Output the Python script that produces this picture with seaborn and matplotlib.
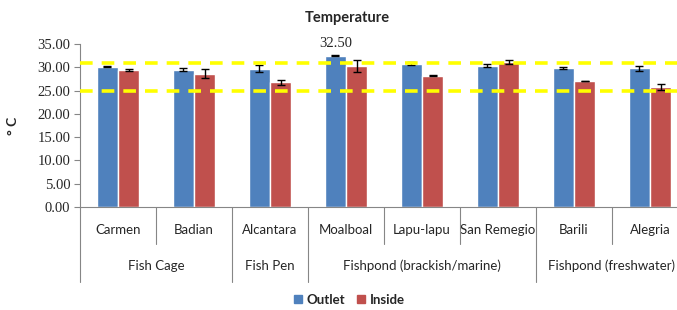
import numpy as np
import pandas as pd
import matplotlib
matplotlib.use("Agg")
import matplotlib.pyplot as plt
import seaborn as sns
from matplotlib.lines import Line2D
from matplotlib.transforms import blended_transform_factory

sites = ["Carmen", "Badian", "Alcantara", "Moalboal", "Lapu-lapu",
         "San Remegio", "Barili", "Alegria"]
groups = ["Fish Cage", "Fish Pen", "Fishpond (brackish/marine)", "Fishpond (freshwater)"]
group_sizes = [2, 1, 3, 2]
series = ["Outlet", "Inside"]
outlet = [30.1, 29.5, 29.7, 32.5, 30.8, 30.3, 29.8, 29.8]
outlet_err = [0.1, 0.3, 0.8, 0.1, 0.3, 0.3, 0.2, 0.5]
inside = [29.5, 28.6, 26.8, 30.2, 28.2, 31.2, 27.1, 25.8]
inside_err = [0.2, 1.0, 0.5, 1.3, 0.05, 0.4, 0.05, 0.6]
limits = [25, 31]
colors = ["#4F81BD", "#C0504D"]

df = pd.DataFrame({
    "site": sites * 2,
    "series": ["Outlet"] * len(sites) + ["Inside"] * len(sites),
    "temp": outlet + inside,
    "err": outlet_err + inside_err,
})

sns.set_style("white")
plt.rcParams["font.family"] = ["Lato", "DejaVu Sans"]

W, H = 677, 310
fig = plt.figure(figsize=(W / 100, H / 100), dpi=100)
ax = fig.add_axes([80 / W, 103 / H, 608 / W, 163 / H])

sns.barplot(data=df, x="site", y="temp", hue="series", order=sites,
            hue_order=series, palette=colors, width=0.56, errorbar=None,
            legend=False, ax=ax, saturation=1)

# error bars from the bar positions
for cont, s in zip(ax.containers, series):
    sub = df[df["series"] == s].set_index("site").loc[sites]
    xs = [p.get_x() + p.get_width() / 2 for p in cont.patches]
    ax.errorbar(xs, sub["temp"], yerr=sub["err"], fmt="none", ecolor="black",
                elinewidth=1, capsize=3, capthick=1, zorder=4)

for v in limits:
    ax.axhline(v, color="#FFFF00", lw=2.6, dashes=(3.5, 2.5), zorder=5)

# data label on Moalboal outlet
mx = ax.containers[0].patches[3]
ax.annotate(f"{outlet[3]:.2f}", (mx.get_x() + mx.get_width() / 2, outlet[3]),
            xytext=(0, 4), textcoords="offset points", ha="center", va="bottom",
            fontsize=10.5, family="Liberation Serif")

ax.set_xlim(-0.5, 7.5)
ax.set_ylim(0, 35)
ax.set_yticks(np.arange(0, 36, 5))
ax.set_yticklabels([f"{t:.2f}" for t in np.arange(0, 36, 5)],
                   family="Liberation Serif", fontsize=10.5)
ax.set_xlabel("")
ax.set_ylabel("° C", fontsize=10, fontweight="bold")
ax.yaxis.set_label_coords(-61 / 608, 0.5)
ax.tick_params(axis="y", left=True, length=4, width=0.8, color="#868686", pad=3)
ax.tick_params(axis="x", length=0, pad=12, labelsize=9.5)

for side in ["top", "right"]:
    ax.spines[side].set_visible(False)
for side in ["left", "bottom"]:
    ax.spines[side].set_color("#868686")
    ax.spines[side].set_linewidth(0.8)

# two-level category axis
tr = blended_transform_factory(ax.transData, ax.transAxes)
bounds = np.cumsum([0] + group_sizes) - 0.5
for i in range(len(sites) + 1):
    x = i - 0.5
    low = -75 / 163 if x in bounds else -37 / 163
    ax.add_line(Line2D([x, x], [0, low], transform=tr, color="#868686",
                       lw=0.8, clip_on=False))
for g, a, b in zip(groups, bounds[:-1], bounds[1:]):
    ax.text((a + b) / 2, -59 / 163, g, transform=tr, ha="center", va="center",
            fontsize=9.5)

fig.text(347 / W, 1 - 18 / H, "Temperature", ha="center", va="center",
         fontsize=10.5, fontweight="bold")

handles = [Line2D([], [], marker="s", ls="", color=c, markersize=6) for c in colors]
leg = fig.legend(handles, series, loc="center", ncol=2, frameon=False,
                 bbox_to_anchor=(349 / W, 1 - 300 / H), handlelength=0.7,
                 handletextpad=0.3, columnspacing=0.9, fontsize=9.5)
for t in leg.get_texts():
    t.set_fontweight("bold")

fig.savefig("out.png", dpi=100)
